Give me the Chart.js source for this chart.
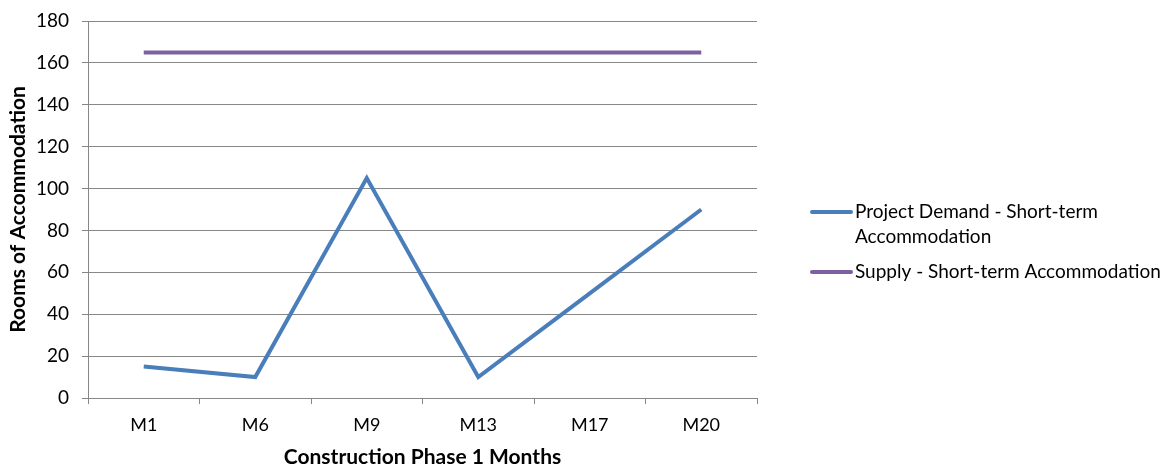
<!DOCTYPE html>
<html>
<head>
<meta charset="utf-8">
<script src="https://cdn.jsdelivr.net/npm/chart.js@4/dist/chart.umd.min.js"></script>
<style>
  html, body { margin: 0; padding: 0; background: #fff; }
  #wrap { width: 1165px; height: 467px; position: relative; }
</style>
</head>
<body>
<div id="wrap"><canvas id="roomsChart"></canvas></div>
<script>
// chart data
var months = ['M1', 'M6', 'M9', 'M13', 'M17', 'M20'];
var demandRooms = [15, 10, 105, 10, 50, 90];
var supplyRooms = [165, 165, 165, 165, 165, 165];
var yTicks = [0, 20, 40, 60, 80, 100, 120, 140, 160, 180];

var FONT = 'Lato';
var GRID = '#878787';

// legend drawn on the canvas so long labels can wrap like the original
var sideLegend = {
    id: 'sideLegend',
    afterDraw: function (chart, args, opts) {
        var ctx = chart.ctx;
        var maxW = chart.width - opts.textX - 1;
        ctx.save();
        ctx.font = opts.fontSize + 'px ' + FONT;
        ctx.textBaseline = 'middle';
        ctx.fillStyle = '#000';
        chart.data.datasets.forEach(function (ds, i) {
            var y = opts.rows[i];
            ctx.strokeStyle = ds.borderColor;
            ctx.lineWidth = ds.borderWidth;
            ctx.lineCap = 'round';
            ctx.beginPath();
            ctx.moveTo(opts.lineX0, y);
            ctx.lineTo(opts.lineX1, y);
            ctx.stroke();

            var words = ds.label.split(' ');
            var line = '';
            words.forEach(function (w) {
                var test = line ? line + ' ' + w : w;
                if (ctx.measureText(test).width > maxW && line) {
                    ctx.fillText(line, opts.textX, y);
                    line = w;
                    y += opts.lineHeight;
                } else {
                    line = test;
                }
            });
            ctx.fillText(line, opts.textX, y);
        });
        ctx.restore();
    }
};

var ctx = document.getElementById('roomsChart').getContext('2d');
new Chart(ctx, {
    type: 'line',
    data: {
        labels: months,
        datasets: [{
            label: 'Project Demand - Short-term Accommodation',
            data: demandRooms,
            borderColor: '#4a7ebb',
            borderWidth: 4,
            pointRadius: 0,
            tension: 0
        }, {
            label: 'Supply - Short-term Accommodation',
            data: supplyRooms,
            borderColor: '#7d60a0',
            borderWidth: 4,
            pointRadius: 0,
            tension: 0
        }]
    },
    options: {
        responsive: true,
        maintainAspectRatio: false,
        animation: false,
        layout: { padding: { top: 21, right: 408, left: 0, bottom: 0 } },
        plugins: {
            legend: { display: false },
            tooltip: { enabled: false },
            sideLegend: {
                lineX0: 812, lineX1: 851, textX: 855,
                rows: [212, 272], lineHeight: 25, fontSize: 19
            }
        },
        scales: {
            x: {
                offset: true,
                grid: {
                    offset: true,
                    drawOnChartArea: false,
                    drawTicks: true,
                    tickLength: 6,
                    color: GRID
                },
                border: { color: GRID, width: 1 },
                ticks: { font: { family: FONT, size: 18 }, color: '#000', padding: 10 },
                title: {
                    display: true,
                    text: 'Construction Phase 1 Months',
                    font: { family: FONT, size: 21, weight: 'bold', lineHeight: 0.9 },
                    color: '#000',
                    padding: { top: 0, bottom: 0 }
                },
                afterFit: function (scale) { scale.height = 69; }
            },
            y: {
                min: 0,
                max: 180,
                afterBuildTicks: function (scale) {
                    scale.ticks = yTicks.map(function (v) { return { value: v }; });
                },
                grid: { color: GRID, tickLength: 6 },
                border: { color: GRID, width: 1 },
                ticks: { font: { family: FONT, size: 19 }, color: '#000', padding: 13 },
                title: {
                    display: true,
                    text: 'Rooms of Accommodation',
                    font: { family: FONT, size: 21, weight: 'bold' },
                    color: '#000',
                    padding: { top: 6, bottom: 0 }
                },
                afterFit: function (scale) {
                    scale.width = 88;
                    scale.paddingTop = 0;
                    scale.paddingBottom = 0;
                }
            }
        }
    },
    plugins: [sideLegend]
});
</script>
</body>
</html>
